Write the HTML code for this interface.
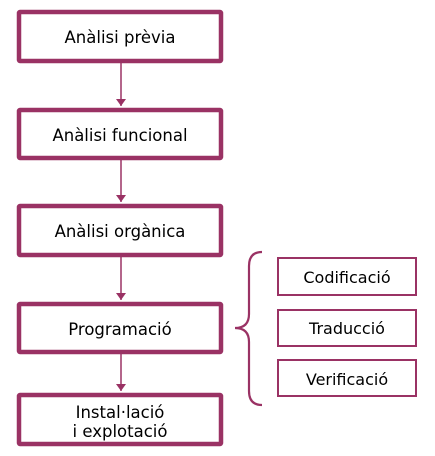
<!DOCTYPE html>
<html><head><style>body{margin:0;background:#fff}svg{display:block}</style></head><body>
<svg width="435" height="456" xmlns="http://www.w3.org/2000/svg" font-family="DejaVu Sans, sans-serif" font-size="16.5" text-anchor="middle">
<defs><marker id="a" markerWidth="8" markerHeight="10" refX="7" refY="5" orient="auto" markerUnits="userSpaceOnUse"><path d="M0,0 L7,5 L0,10 z" fill="#9a3264"/></marker></defs>
<g fill="#fff" stroke="#9a3264" stroke-width="4.5">
<rect x="19" y="12" width="202" height="49" rx="1"/>
<rect x="19" y="110" width="202" height="48" rx="1"/>
<rect x="19" y="206" width="202" height="49" rx="1"/>
<rect x="19" y="304" width="202" height="48" rx="1"/>
<rect x="19" y="395" width="202" height="49" rx="1"/>
</g>
<g fill="#fff" stroke="#9a3264" stroke-width="2">
<rect x="278" y="258" width="138" height="37"/>
<rect x="278" y="310" width="138" height="36"/>
<rect x="278" y="360" width="138" height="36"/>
</g>
<g stroke="#9a3264" stroke-width="1.5" marker-end="url(#a)">
<line x1="121" y1="63" x2="121" y2="106"/>
<line x1="121" y1="160" x2="121" y2="202"/>
<line x1="121" y1="257" x2="121" y2="300"/>
<line x1="121" y1="354" x2="121" y2="391"/>
</g>
<path d="M262,252 Q249,252 249,266 L249,314 Q249,328 235,328 Q249,328 249,342 L249,391 Q249,405 262,405" fill="none" stroke="#9a3264" stroke-width="2.2"/>
<g fill="#000">
<text x="120" y="43">Anàlisi prèvia</text>
<text x="120" y="141">Anàlisi funcional</text>
<text x="120" y="237">Anàlisi orgànica</text>
<text x="120" y="335">Programació</text>
<text x="120" y="418">Instal·lació</text>
<text x="120" y="437">i explotació</text>
<text x="347" y="283" font-size="16">Codificació</text>
<text x="347" y="334" font-size="16">Traducció</text>
<text x="347" y="385" font-size="16">Verificació</text>
</g>
</svg>
</body></html>
